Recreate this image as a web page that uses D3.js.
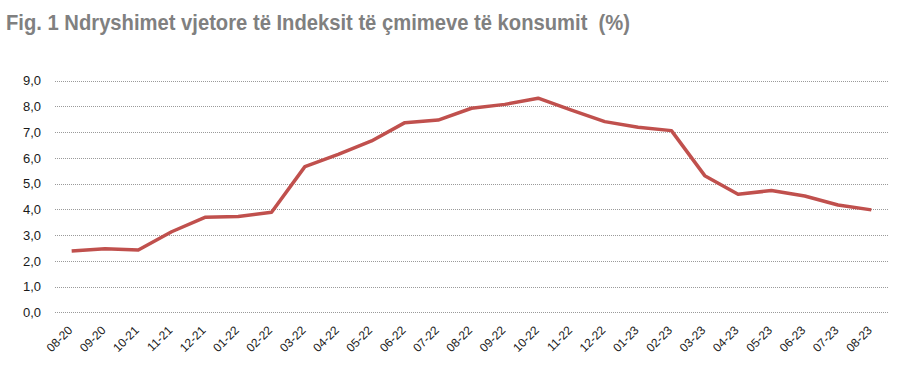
<head>
    <meta charset="utf-8" />
    <script src="https://d3js.org/d3.v7.min.js"></script>
</head>
<style>
    body { margin: 0; background: #fff; }
    text { font-family: Arial, "Liberation Sans", sans-serif; }
</style>
<body>
</body>
<script>
// muajt (kategorite) dhe vlerat e inflacionit vjetor
var muajt = ["08-20","09-20","10-21","11-21","12-21","01-22","02-22","03-22","04-22","05-22",
    "06-22","07-22","08-22","09-22","10-22","11-22","12-22","01-23","02-23","03-23",
    "04-23","05-23","06-23","07-23","08-23"];
var vlerat = [2.38, 2.47, 2.42, 3.13, 3.69, 3.72, 3.89, 5.66, 6.14, 6.66,
    7.37, 7.47, 7.93, 8.08, 8.32, 7.86, 7.41, 7.19, 7.06, 5.31,
    4.59, 4.73, 4.52, 4.17, 3.98];
var yTicks = [0, 1, 2, 3, 4, 5, 6, 7, 8, 9];
var titulli = "Fig. 1 Ndryshimet vjetore të Indeksit të çmimeve të konsumit  (%)";

var width = 906, height = 371;
var margin = {left: 55, right: 18, top: 81, bottom: 59};

var svg = d3.select("body")
    .append("svg")
    .attr("width", width)
    .attr("height", height);

svg.append("text")
    .attr("x", 6)
    .attr("y", 30)
    .attr("fill", "#808080")
    .attr("font-size", 22)
    .attr("font-weight", "bold")
    .attr("textLength", 624)
    .attr("lengthAdjust", "spacingAndGlyphs")
    .style("white-space", "pre")
    .text(titulli);

var x = d3.scalePoint()
    .domain(muajt)
    .range([margin.left, width - margin.right])
    .padding(0.5);

var y = d3.scaleLinear()
    .domain([0, 9])
    .range([height - margin.bottom + 0.3, margin.top - 0.3]);

var g = svg.append("g");

// vijat e rrjetit me pika
g.selectAll("line.grid")
    .data(yTicks)
    .enter()
    .append("line")
    .attr("class", "grid")
    .attr("x1", margin.left)
    .attr("x2", width - margin.right)
    .attr("y1", function (d) { return Math.round(y(d)) + 0.5; })
    .attr("y2", function (d) { return Math.round(y(d)) + 0.5; })
    .attr("stroke", "#9a9a9a")
    .attr("stroke-width", 1)
    .attr("stroke-dasharray", "1,1");

// etiketat e boshtit y
var yAxis = d3.axisLeft(y)
    .tickValues(yTicks)
    .tickSize(0)
    .tickPadding(0)
    .tickFormat(function (d) { return d3.format(".1f")(d).replace(".", ","); });

svg.append("g")
    .attr("transform", "translate(41,0)")
    .call(yAxis)
    .call(function (s) { s.select(".domain").remove(); })
    .selectAll("text")
    .attr("font-size", 13)
    .attr("font-family", "Arial, 'Liberation Sans', sans-serif")
    .attr("fill", "#1a1a1a");

// etiketat e boshtit x, te pjerreta
var xAxis = d3.axisBottom(x).tickSize(0).tickPadding(0);

svg.append("g")
    .attr("transform", "translate(0," + (height - margin.bottom) + ")")
    .call(xAxis)
    .call(function (s) { s.select(".domain").remove(); })
    .selectAll("text")
    .attr("font-size", 12)
    .attr("font-family", "Arial, 'Liberation Sans', sans-serif")
    .attr("fill", "#1a1a1a")
    .attr("dy", null)
    .attr("y", 0)
    .style("text-anchor", "end")
    .attr("transform", "translate(1,19) rotate(-45)");

// vija e inflacionit
var line = d3.line()
    .x(function (d, i) { return x(muajt[i]); })
    .y(function (d) { return y(d); });

g.append("path")
    .datum(vlerat)
    .attr("d", line)
    .attr("fill", "none")
    .attr("stroke", "#c0504d")
    .attr("stroke-width", 3.5)
    .attr("stroke-linejoin", "round");
</script>
